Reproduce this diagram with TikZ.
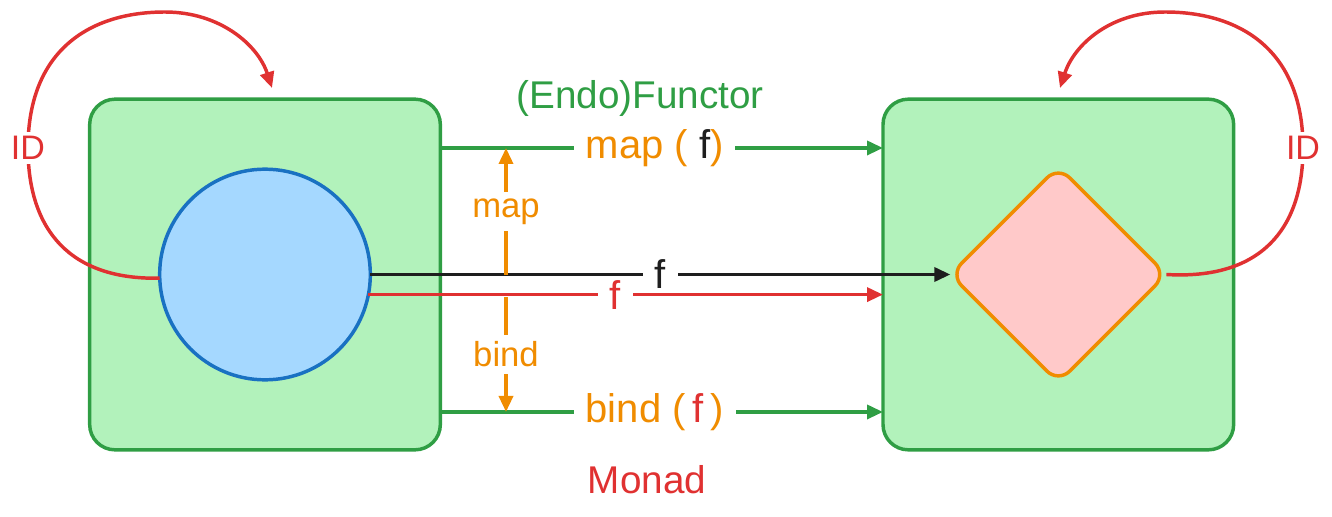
\documentclass[tikz,border=0pt]{standalone}
\usepackage{fontspec}
\setmainfont{Liberation Sans}
\usetikzlibrary{shapes.geometric, arrows.meta, positioning}

\definecolor{grn}{HTML}{2F9E44}
\definecolor{lgrn}{HTML}{B2F2BB}
\definecolor{blu}{HTML}{1971C2}
\definecolor{lblu}{HTML}{A5D8FF}
\definecolor{orng}{HTML}{F08C00}
\definecolor{rd}{HTML}{E03131}
\definecolor{pnk}{HTML}{FFC9C9}
\definecolor{ink}{HTML}{1E1E1E}

\begin{document}
\begin{tikzpicture}[
  x=0.75pt, y=-0.75pt,
  greenbox/.style={rectangle, draw=grn, fill=lgrn, line width=2.6pt, rounded corners=19pt, minimum width=263pt, minimum height=263pt, outer sep=0pt},
  valnode/.style={circle, draw=blu, fill=lblu, line width=2.6pt, minimum size=158pt, inner sep=0pt, outer sep=0pt},
  resnode/.style={diamond, draw=orng, fill=pnk, line width=2.6pt, rounded corners=12pt, minimum width=162pt, minimum height=162pt, aspect=1, inner sep=0pt, outer sep=0pt},
  arr/.style={-{Triangle[length=12pt, width=10.5pt]}, line width=2.6pt},
  gaplabel/.style={fill=white, inner xsep=9pt, inner ysep=2pt, font=\fontsize{30}{34}\selectfont},
  smalllabel/.style={fill=white, inner xsep=2pt, inner ysep=5pt, font=\fontsize{26}{30}\selectfont, text=orng},
  idlabel/.style={fill=white, inner sep=3pt, font=\fontsize{25.5}{30}\selectfont, text=rd},
  handlabel/.style={font=\fontsize{29}{34}\selectfont}
]
  \useasboundingbox (0,0) rectangle (1332,517);

  % boxes and values
  \node[greenbox] (lbox) at (265,274.5) {};
  \node[greenbox, right=332pt of lbox] (rbox) {};
  \node[valnode] (circ) at (lbox.center) {};
  \node[resnode] (dia) at (rbox.center) {};

  % titles
  \node[handlabel, text=grn] (functor) at (640,98) {(Endo)Functor};
  \node[handlabel, text=rd] (monad) at (647,480) {Monad};

  % end points
  \coordinate (mapA) at ([yshift=94.9pt]lbox.east);
  \coordinate (bindA) at ([yshift=-103.1pt]lbox.east);
  \coordinate (mapB) at (mapA -| rbox.west);
  \coordinate (bindB) at (bindA -| rbox.west);
  \coordinate (redA) at (circ.-11.4);
  \coordinate (redB) at (redA -| rbox.west);
  \coordinate (upfoot) at (506,275);
  \coordinate (downfoot) at (506,297);
  \coordinate (idL) at (272,88);
  \coordinate (idR) at (1060,88);

  % lifted arrows
  \draw[arr, grn] (mapA) -- node[gaplabel, pos=0.484, text=orng] (maplbl) {map ( \textcolor{ink}{f})} (mapB);
  \draw[arr, grn] (bindA) -- node[gaplabel, pos=0.484, text=orng] (bindlbl) {bind (\,\textcolor{rd}{f}\,)} (bindB);

  % plain arrows
  \draw[arr, ink] (circ.east) -- node[gaplabel, pos=0.5, text=ink] (fblack) {f} (dia.west);
  \draw[arr, rd] (redA) -- node[gaplabel, pos=0.48, text=rd] (fred) {f} (redB);

  % map / bind
  \draw[arr, orng] (upfoot) -- node[smalllabel] (mapword) {map} (upfoot |- mapA);
  \draw[arr, orng] (downfoot) -- node[smalllabel] (bindword) {bind} (downfoot |- bindA);

  % identity loops
  \draw[arr, rd] (circ.182) .. controls (70,280) and (28,230) .. (28,148) node[idlabel] (idl) {ID}
    .. controls (28,50) and (90,12) .. (165,12) .. controls (220,12) and (258,45) .. (idL);
  \draw[arr, rd] (dia.east) .. controls (1260,280) and (1303,230) .. (1303,148) node[idlabel] (idr) {ID}
    .. controls (1303,50) and (1240,12) .. (1165,12) .. controls (1110,12) and (1074,45) .. (idR);
\end{tikzpicture}
\end{document}
